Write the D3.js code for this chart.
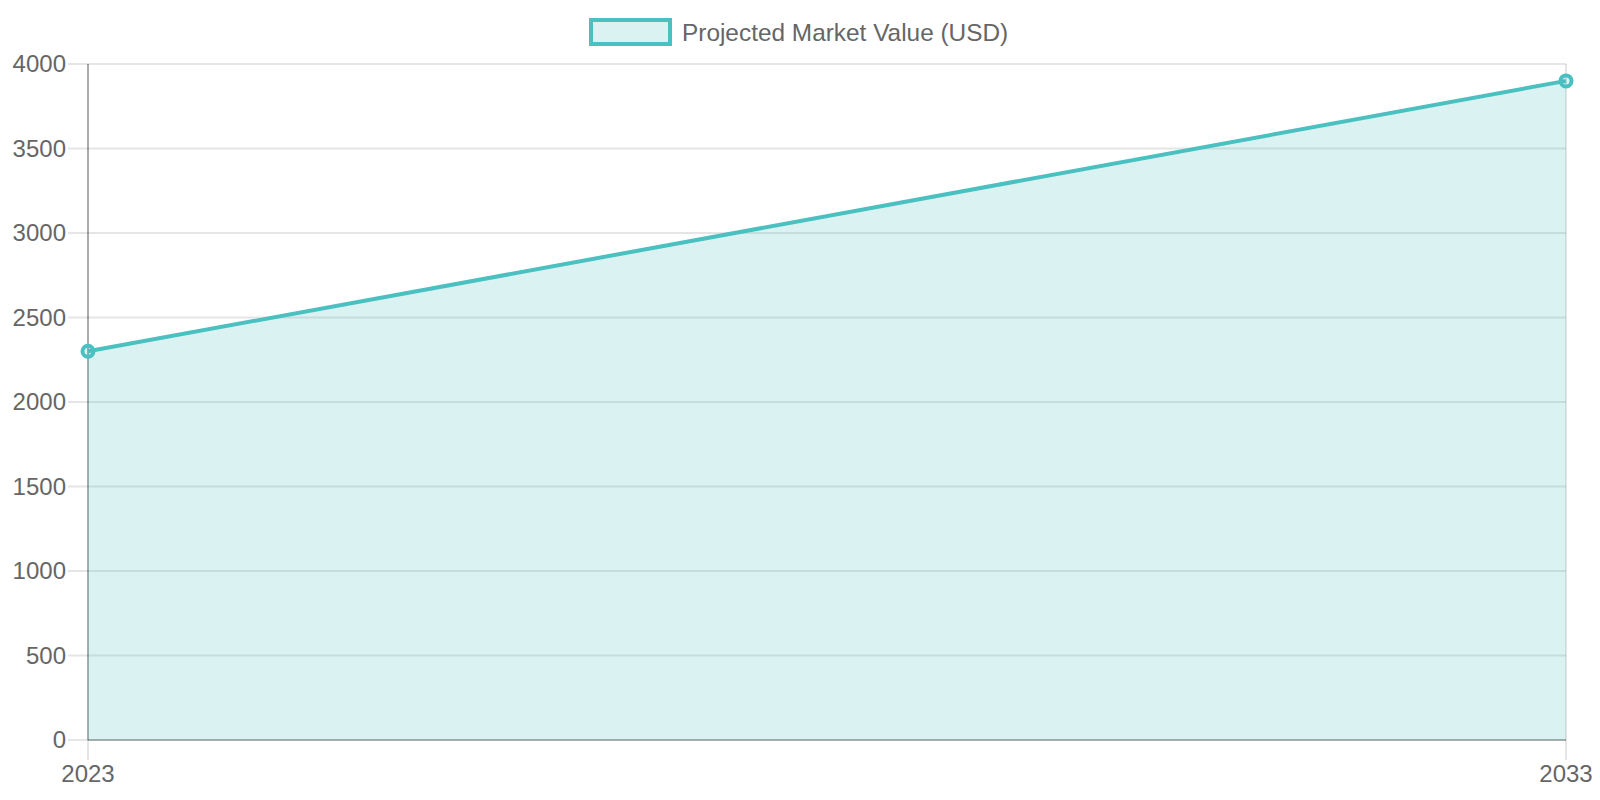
<!DOCTYPE html>
<html>
<head>
<meta charset="utf-8">
<script src="https://cdn.jsdelivr.net/npm/d3@7"></script>
<style>
  html, body { margin: 0; padding: 0; background: #fff; }
  svg text { font-family: 'Liberation Sans', Arial, Helvetica, sans-serif; fill: #666; }
</style>
</head>
<body>
<div id="chart"></div>
<script>
const width = 1600;
const height = 800;

const years = ['2023', '2033'];
const marketValues = [2300, 3900];
const yTicks = [0, 500, 1000, 1500, 2000, 2500, 3000, 3500, 4000];
const seriesName = 'Projected Market Value (USD)';

const lineColor = 'rgb(75,192,192)';
const fillColor = 'rgba(75,192,192,0.2)';
const gridColor = 'rgba(0,0,0,0.1)';
const zeroColor = 'rgba(0,0,0,0.25)';

const plotLeft = 88, plotRight = 1566, plotTop = 64, plotBottom = 740;
const tickLen = 20;

const svg = d3
  .select('#chart')
  .append('svg')
  .attr('width', width)
  .attr('height', height);

let x = d3.scalePoint().domain(years).range([plotLeft, plotRight]);
let y = d3.scaleLinear().domain([0, 4000]).range([plotBottom, plotTop]);

// horizontal grid lines, with tick marks reaching out to the left
let grid = svg.append('g');
grid.selectAll('.hgrid')
  .data(yTicks)
  .enter()
  .append('line')
  .attr('x1', plotLeft - tickLen)
  .attr('x2', plotRight)
  .attr('y1', (d) => y(d))
  .attr('y2', (d) => y(d))
  .attr('stroke', gridColor)
  .attr('stroke-width', 2);

// vertical grid lines, reaching below the plot
grid.selectAll('.vgrid')
  .data(years)
  .enter()
  .append('line')
  .attr('x1', (d) => x(d))
  .attr('x2', (d) => x(d))
  .attr('y1', plotTop)
  .attr('y2', plotBottom + tickLen)
  .attr('stroke', gridColor)
  .attr('stroke-width', 2);

// zero lines (left and bottom), darker inside the plot
grid.append('line')
  .attr('x1', plotLeft).attr('x2', plotRight)
  .attr('y1', y(0)).attr('y2', y(0))
  .attr('stroke', zeroColor).attr('stroke-width', 2);
grid.append('line')
  .attr('x1', x(years[0])).attr('x2', x(years[0]))
  .attr('y1', plotTop).attr('y2', plotBottom)
  .attr('stroke', zeroColor).attr('stroke-width', 2);

const data = years.map((yr, i) => ({ year: yr, value: marketValues[i] }));

let area = d3.area()
  .x((d) => x(d.year))
  .y0(y(0))
  .y1((d) => y(d.value));

let line = d3.line()
  .x((d) => x(d.year))
  .y((d) => y(d.value));

svg.append('path')
  .datum(data)
  .attr('d', area)
  .attr('fill', fillColor);

svg.append('path')
  .datum(data)
  .attr('d', line)
  .attr('fill', 'none')
  .attr('stroke', lineColor)
  .attr('stroke-width', 4);

svg.selectAll('.pt')
  .data(data)
  .enter()
  .append('circle')
  .attr('cx', (d) => x(d.year))
  .attr('cy', (d) => y(d.value))
  .attr('r', 5.5)
  .attr('fill', fillColor)
  .attr('stroke', lineColor)
  .attr('stroke-width', 4);

// y tick labels
svg.selectAll('.ylab')
  .data(yTicks)
  .enter()
  .append('text')
  .attr('x', plotLeft - tickLen - 2)
  .attr('y', (d) => y(d))
  .attr('dy', '0.35em')
  .attr('text-anchor', 'end')
  .style('font-size', '24px')
  .text((d) => d);

// x tick labels
svg.selectAll('.xlab')
  .data(years)
  .enter()
  .append('text')
  .attr('x', (d) => x(d))
  .attr('y', 782)
  .attr('text-anchor', 'middle')
  .style('font-size', '24px')
  .text((d) => d);

// legend
let legend = svg.append('g');
legend.append('rect')
  .attr('x', 591)
  .attr('y', 20)
  .attr('width', 79)
  .attr('height', 24)
  .attr('fill', fillColor)
  .attr('stroke', lineColor)
  .attr('stroke-width', 4);
legend.append('text')
  .attr('x', 682)
  .attr('y', 40.5)
  .style('font-size', '24.4px')
  .text(seriesName);
</script>
</body>
</html>
